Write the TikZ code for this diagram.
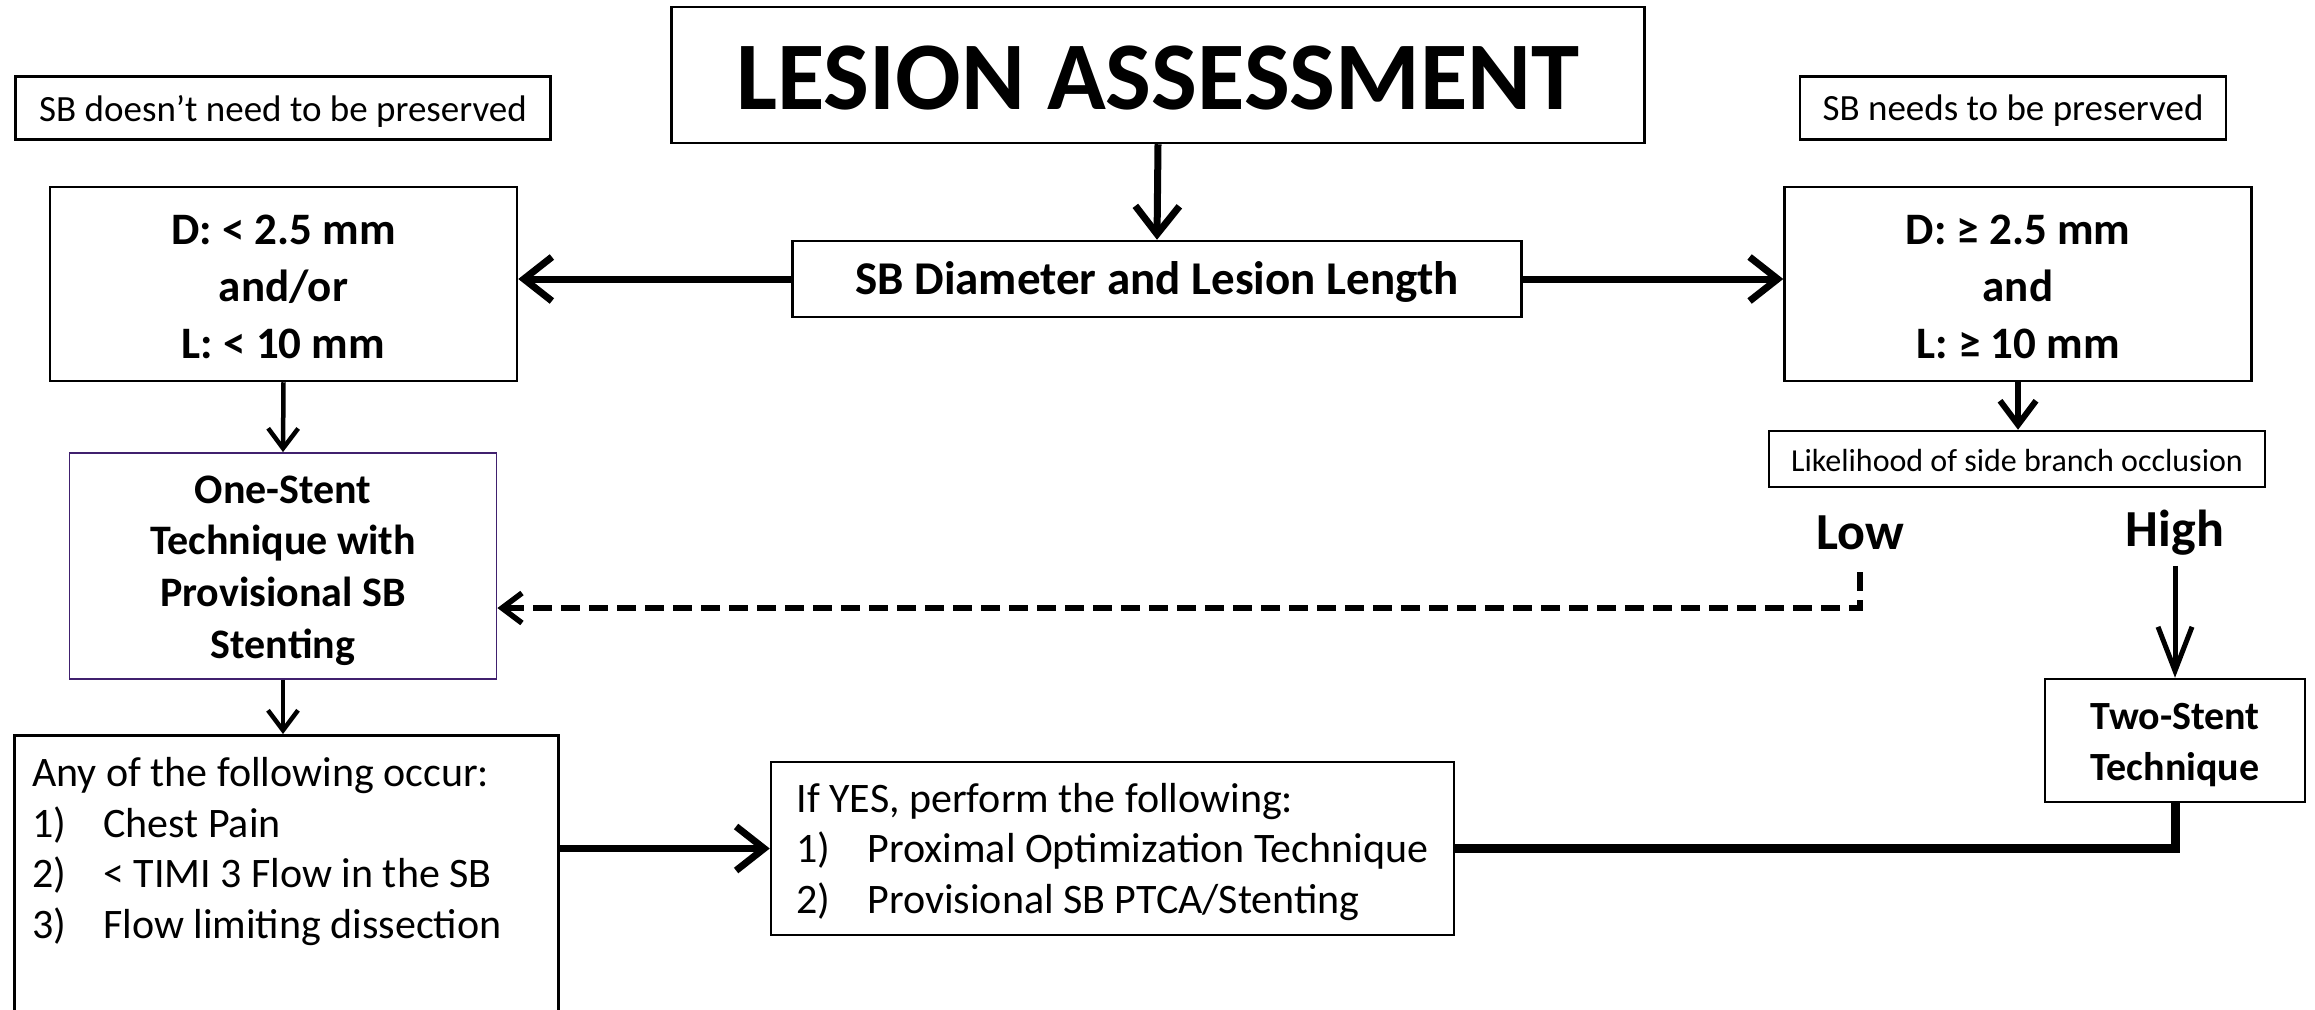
\documentclass[tikz,border=0pt]{standalone}
\usepackage{fontspec}
\setmainfont{Carlito}
\usetikzlibrary{arrows.meta}
\definecolor{purpleline}{RGB}{64,32,110}
\begin{document}
\begin{tikzpicture}[x=1pt,y=-1pt,
  box/.style={draw=black, line width=2.5pt, inner sep=0pt, align=center},
  lbl/.style={inner sep=0pt, align=center},
  bigarrow/.style={line width=7pt, -{Straight Barb[length=28pt,width=44pt]}},
  thinarrow/.style={line width=4.5pt, -{Straight Barb[length=20pt,width=30pt]}},
  midarrow/.style={line width=6pt, -{Straight Barb[length=24pt,width=36pt]}},
  higharrow/.style={line width=5pt, -{Straight Barb[length=44pt,width=34pt]}},
  dasharrow/.style={line width=5.5pt, dash pattern=on 19pt off 9pt, -{Straight Barb[length=20pt,width=30pt]}},
  fatline/.style={line width=9pt},
  bodyfont/.style={font=\fontsize{42}{50.7}\selectfont}
]
\useasboundingbox[fill=white] (0,0) rectangle (2315,1009);

% nodes
\node[box, minimum width=973pt, minimum height=136pt,
  label={[lbl, yshift=-3pt, font=\fontsize{97}{110}\selectfont\bfseries]center:LESION ASSESSMENT}] (les) at (1158,75) {};
\node[box, minimum width=535pt, minimum height=63pt,
  label={[lbl, yshift=-3pt, font=\fontsize{37}{44}\selectfont]center:SB doesn’t need to be preserved}] (sbdn) at (283,108) {};
\node[box, minimum width=426pt, minimum height=63pt,
  label={[lbl, yshift=-3pt, font=\fontsize{37}{44}\selectfont]center:SB needs to be preserved}] (sbn) at (2013,108) {};
\node[box, minimum width=467pt, minimum height=194pt,
  label={[lbl, yshift=-3pt, font=\fontsize{45}{57}\selectfont\bfseries]center:{D: < 2.5 mm\\and/or\\L: < 10 mm}}] (dl) at (283.5,284) {};
\node[box, minimum width=467pt, minimum height=194pt,
  label={[lbl, yshift=-3pt, font=\fontsize{45}{57}\selectfont\bfseries]center:{D: ≥ 2.5 mm\\and\\L: ≥ 10 mm}}] (dr) at (2018,284) {};
\node[box, minimum width=729pt, minimum height=76pt,
  label={[lbl, yshift=-3pt, font=\fontsize{47}{57}\selectfont\bfseries]center:SB Diameter and Lesion Length}] (sbd) at (1157,279) {};
\node[box, draw=purpleline, line width=1.8pt, minimum width=427pt, minimum height=226pt,
  label={[lbl, yshift=-4.5pt, font=\fontsize{42}{51.7}\selectfont\bfseries]center:{One-Stent\\Technique with\\Provisional SB\\Stenting}}] (one) at (283,566) {};
\node[box, minimum width=544pt, minimum height=320pt, anchor=north west] (anybox) at (13,734) {};
\node[anchor=west, align=left, inner sep=0pt, bodyfont] (anytext) at (32,851.5) {Any of the following occur:\\\makebox[71pt][l]{1)}Chest Pain\\\makebox[71pt][l]{2)}< TIMI 3 Flow in the SB\\\makebox[71pt][l]{3)}Flow limiting dissection};
\node[box, minimum width=683pt, minimum height=173pt,
  label={[lbl, align=left, yshift=-3.5pt, bodyfont]center:{If YES, perform the following:\\\makebox[71pt][l]{1)}Proximal Optimization Technique\\\makebox[71pt][l]{2)}Provisional SB PTCA/Stenting}}] (ify) at (1112.5,848.5) {};
\node[box, minimum width=260pt, minimum height=123pt,
  label={[lbl, yshift=-4.5pt, font=\fontsize{40}{51}\selectfont\bfseries]center:{Two-Stent\\Technique}}] (two) at (2175,740.5) {};
\node[box, minimum width=496pt, minimum height=56pt,
  label={[lbl, yshift=-1.5pt, font=\fontsize{32}{38}\selectfont]center:Likelihood of side branch occlusion}] (like) at (2017,459) {};
\node[inner sep=0pt, font=\fontsize{52}{60}\selectfont\bfseries] (low) at (1860,533) {Low};
\node[inner sep=0pt, font=\fontsize{52}{60}\selectfont\bfseries] (high) at (2175,533) {High};
\coordinate (lowbend) at (1860,608);

% connectors
\draw[bigarrow] (les.south) -- (sbd.north);
\draw[bigarrow] (sbd.west) -- (sbd.west -| dl.east);
\draw[bigarrow] (sbd.east) -- (sbd.east -| dr.west);
\draw[thinarrow] (dl.south) -- (one.north);
\draw[thinarrow] (one.south) -- (one.south |- anybox.north);
\draw[midarrow] (dr.south) -- (dr.south |- like.north);
\draw[higharrow, shorten <=10pt] (high.south) -- (high.south |- two.north);
\draw[dasharrow, shorten <=22pt] (low.south) -- (lowbend) -- (lowbend -| one.east);
\draw[bigarrow] (anybox.east |- ify.west) -- (ify.west);
\draw[fatline] (ify.east) -| (two.south);
\end{tikzpicture}
\end{document}
